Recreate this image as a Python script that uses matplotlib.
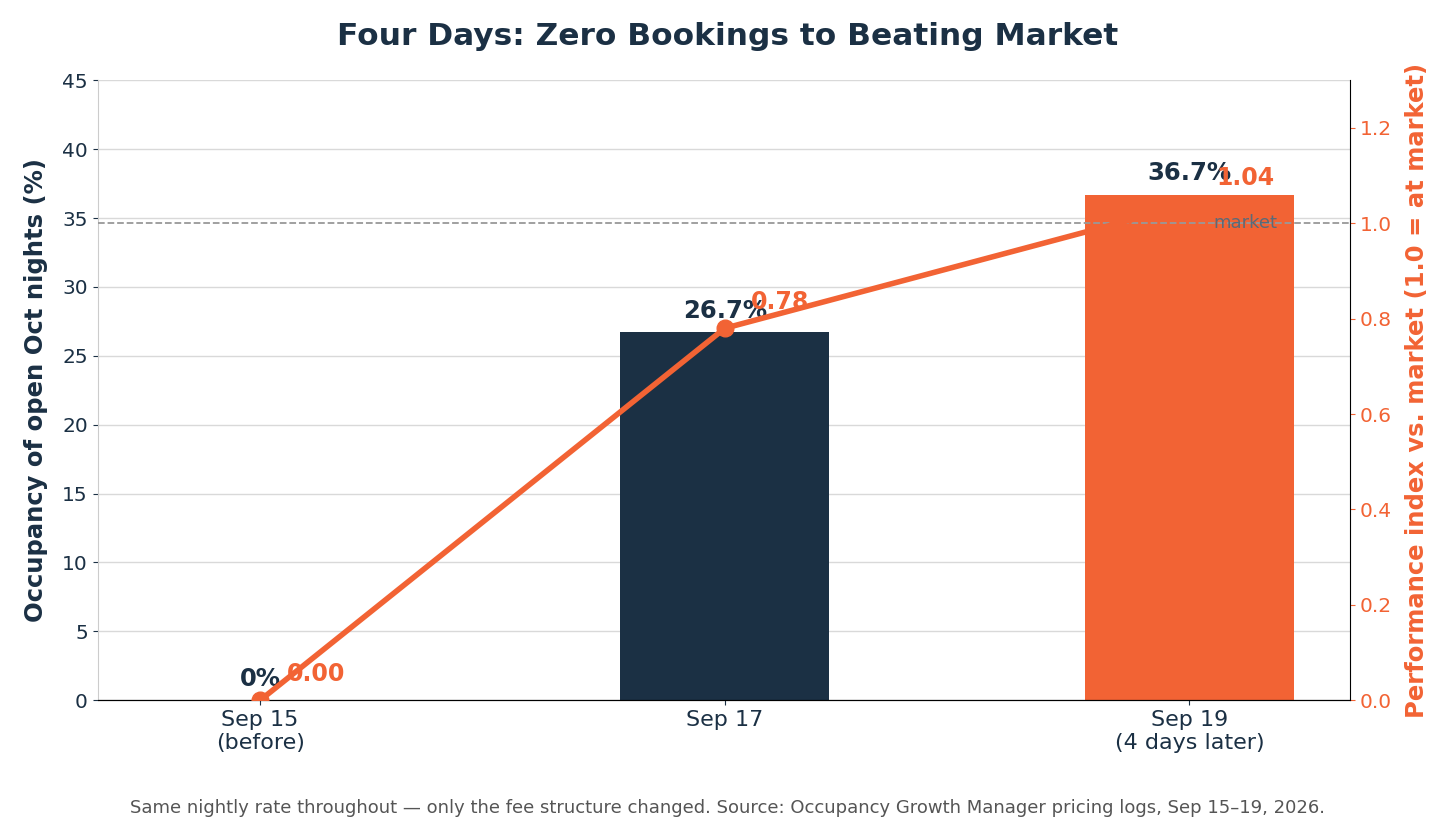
import numpy as np
import matplotlib
matplotlib.use("Agg")
import matplotlib.pyplot as plt

plt.rcParams["font.family"] = ["DejaVu Sans"]

# data
dates = ["Sep 15\n(before)", "Sep 17", "Sep 19\n(4 days later)"]
occupancy = [0.0, 26.7, 36.7]
perf_index = [0.00, 0.78, 1.04]
market_level = 1.0

NAVY = "#1b3044"
ORANGE = "#f26334"
bar_colors = ["#d0d5da", NAVY, ORANGE]

fig, ax = plt.subplots(figsize=(14.56, 8.19), dpi=100)
fig.subplots_adjust(left=0.067, right=0.927, top=0.902, bottom=0.145)

x = np.arange(len(dates))
ax.bar(x, occupancy, width=0.45, color=bar_colors, zorder=2)
ax.set_ylim(0, 45)
ax.set_xlim(-0.35, 2.345)
ax.set_yticks(np.arange(0, 46, 5))
ax.set_xticks(x)
ax.set_xticklabels(dates, fontsize=16, color=NAVY)
ax.tick_params(axis="y", labelsize=14.5, colors=NAVY)
ax.tick_params(axis="x", colors=NAVY)
ax.set_ylabel("Occupancy of open Oct nights (%)", fontsize=17.5, fontweight="bold",
              color=NAVY, labelpad=10)
ax.grid(axis="y", color="#d9d9d9", linewidth=1, zorder=0)
ax.set_axisbelow(True)
ax.spines["top"].set_visible(False)
ax.spines["left"].set_color("#cccccc")
ax.spines["right"].set_visible(False)

for xi, v in zip(x, occupancy):
    ax.text(xi, v + 0.7, f"{v:g}%", ha="center", va="bottom",
            fontsize=17.5, fontweight="bold", color=NAVY)

ax2 = ax.twinx()
ax2.set_ylim(0, 1.3)
ax2.set_yticks(np.arange(0, 1.21, 0.2))
ax2.plot(x, perf_index, color=ORANGE, linewidth=4, marker="o", markersize=12, zorder=3)
ax2.axhline(market_level, color="#999999", linestyle="--", linewidth=1.3, zorder=1)
ax2.text(2.19, market_level, "market", ha="right", va="center", fontsize=13, color="#5a6a78")
ax2.tick_params(axis="y", labelsize=14.5, colors=ORANGE)
ax2.set_ylabel("Performance index vs. market (1.0 = at market)", fontsize=17.5,
               fontweight="bold", color=ORANGE, labelpad=10)
ax2.spines["top"].set_visible(False)
ax2.spines["left"].set_visible(False)

for xi, v in zip(x, perf_index):
    ax2.text(xi + 0.12, v + 0.03, f"{v:.2f}", ha="center", va="bottom",
             fontsize=17, fontweight="bold", color=ORANGE)

fig.suptitle("Four Days: Zero Bookings to Beating Market", fontsize=22.5,
             fontweight="bold", color=NAVY, y=0.955, va="center")
fig.text(0.5, 0.0134, "Same nightly rate throughout \u2014 only the fee structure changed. "
         "Source: Occupancy Growth Manager pricing logs, Sep 15\u201319, 2026.",
         ha="center", va="center", fontsize=13, color="#555555")

fig.savefig("out.png", dpi=100)
